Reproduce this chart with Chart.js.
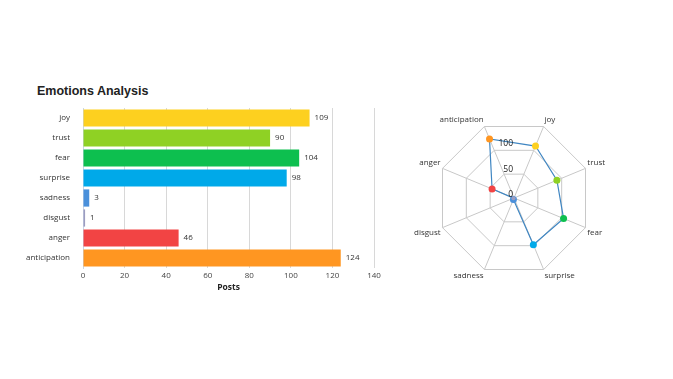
<!DOCTYPE html>
<html>
<head>
<meta charset="utf-8">
<script src="https://cdn.jsdelivr.net/npm/chart.js@4"></script>
<style>
  html, body { margin: 0; padding: 0; background: #fff; }
  body { width: 673px; height: 379px; position: relative; overflow: hidden; font-family: "Open Sans", "DejaVu Sans", sans-serif; }
  #title { position: absolute; left: 37px; top: 84px; font: bold 12.5px "Liberation Sans", Arial, sans-serif; color: #222; }
  #barWrap { position: absolute; left: 0; top: 95px; width: 390px; height: 201px; }
  #radarWrap { position: absolute; left: 411px; top: 113px; width: 200px; height: 170px; }
</style>
</head>
<body>
<div id="title">Emotions Analysis</div>
<div id="barWrap"><canvas id="bar" width="390" height="201"></canvas></div>
<div id="radarWrap"><canvas id="radar" width="200" height="170"></canvas></div>
<script>
const categories = ["joy", "trust", "fear", "surprise", "sadness", "disgust", "anger", "anticipation"];
const posts = [109, 90, 104, 98, 3, 1, 46, 124];
const colors = ["#FDD01F", "#8FD124", "#0DBF4F", "#00A9E9", "#4A90DB", "#9C9CC0", "#F24444", "#FF9621"];
const xTicks = [0, 20, 40, 60, 80, 100, 120, 140];
const radarTicks = [0, 50, 100];
const axisTitle = "Posts";

const FONT = "'Open Sans', 'DejaVu Sans', sans-serif";

const barValueLabels = {
  id: 'barValueLabels',
  afterDatasetsDraw(chart) {
    const ctx = chart.ctx;
    const meta = chart.getDatasetMeta(0);
    ctx.save();
    ctx.font = "8px " + FONT;
    ctx.fillStyle = "#333";
    ctx.textAlign = "left";
    ctx.textBaseline = "middle";
    meta.data.forEach((el, i) => {
      ctx.fillText(String(posts[i]), el.x + 5, el.y);
    });
    ctx.restore();
  }
};

new Chart(document.getElementById('bar'), {
  type: 'bar',
  data: {
    labels: categories,
    datasets: [{
      data: posts,
      backgroundColor: colors,
      borderWidth: 0,
      barPercentage: 0.86,
      categoryPercentage: 1.0
    }]
  },
  options: {
    indexAxis: 'y',
    responsive: false,
    animation: false,
    layout: { padding: { left: 0, right: 16, top: 13, bottom: 0 } },
    plugins: { legend: { display: false }, tooltip: { enabled: false } },
    scales: {
      x: {
        min: 0, max: 140,
        afterBuildTicks(scale) { scale.ticks = xTicks.map(v => ({ value: v })); },
        afterFit(scale) { scale.height = 28; },
        grid: { color: "#d8d8d8", drawTicks: false, lineWidth: 1 },
        border: { display: false },
        ticks: { color: "#444", font: { size: 8, family: FONT }, padding: 3, maxRotation: 0 },
        title: { display: true, text: axisTitle, color: "#222", font: { size: 8.5, weight: 'bold', family: FONT }, padding: { top: 2, bottom: 3 } }
      },
      y: {
        afterFit(scale) { scale.width = 83; },
        grid: { display: false, drawTicks: true },
        border: { display: true, color: "#c9d6e8", width: 1 },
        ticks: { color: "#333", font: { size: 8, family: FONT }, padding: 5 }
      }
    }
  },
  plugins: [barValueLabels]
});

const radarTickLabels = {
  id: 'radarTickLabels',
  afterDatasetsDraw(chart) {
    const scale = chart.scales.r;
    const ctx = chart.ctx;
    ctx.save();
    ctx.font = "8.5px " + FONT;
    ctx.fillStyle = "#222";
    ctx.textAlign = "right";
    ctx.textBaseline = "middle";
    radarTicks.forEach(v => {
      const d = scale.getDistanceFromCenterForValue(v);
      ctx.fillText(String(v), scale.xCenter - 1, scale.yCenter - d - 3);
    });
    ctx.restore();
  }
};

new Chart(document.getElementById('radar'), {
  type: 'radar',
  data: {
    labels: categories,
    datasets: [{
      data: posts,
      borderColor: "#3f86c2",
      borderWidth: 1.2,
      fill: false,
      pointBackgroundColor: colors,
      pointBorderColor: colors,
      pointBorderWidth: 0,
      pointRadius: [3.5, 3.5, 3.5, 3.5, 3.5, 2, 3.5, 3.5]
    }]
  },
  options: {
    responsive: false,
    animation: false,
    layout: { padding: 0 },
    plugins: { legend: { display: false }, tooltip: { enabled: false } },
    scales: {
      r: {
        min: 0, max: 150,
        startAngle: 22.5,
        ticks: { display: false, stepSize: 50 },
        grid: { color: "#c8c8c8", lineWidth: 1 },
        angleLines: { color: "#c8c8c8", lineWidth: 1 },
        pointLabels: { color: "#333", font: { size: 8, family: FONT }, padding: 2 }
      }
    }
  },
  plugins: [radarTickLabels]
});
</script>
</body>
</html>
